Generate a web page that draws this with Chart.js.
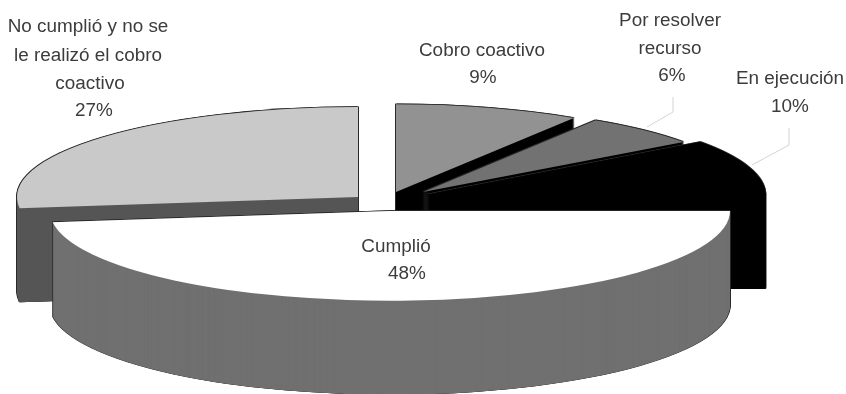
<!DOCTYPE html>
<html lang="es">
<head>
    <meta charset="UTF-8">
    <title>Estado de las sanciones</title>
    <script src="https://cdn.jsdelivr.net/npm/chart.js"></script>
    <style>
        body {
            margin: 0;
            padding: 0;
            background: #fff;
        }
        canvas {
            display: block;
        }
    </style>
</head>
<body>
<canvas id="pie" width="846" height="394"></canvas>
<script>
    // slices, clockwise, starting from the one that is drawn furthest back
    const categories = ['No cumplió y no se le realizó el cobro coactivo', 'Cobro coactivo', 'Por resolver recurso', 'En ejecución', 'Cumplió'];
    const percentages = [27, 9, 6, 10, 48];

    const topColors = ['#c9c9c9', '#929292', '#727272', '#000000', '#ffffff'];
    const sideColors = ['#555555', '#000000', '#000000', '#000000', '#707070'];

    const squash = 0.264;   // vertical flattening of the disc
    const depth = 94;       // height of the disc on screen, px

    // how far each slice is pulled out of the disc (screen px) and its radius
    const pullOut = [[-29.5, -5], [8.5, -10], [35.5, -10], [37, -7], [2.5, 9]];
    const sliceRadius = [341, 332, 322, 341, 340];

    const labelLines = [
        ['No cumplió y no se', 88, 27], ['le realizó el cobro', 88, 56], ['coactivo', 90, 84], ['27%', 94, 111],
        ['Cobro coactivo', 482, 51], ['9%', 483, 78],
        ['Por resolver', 670, 21], ['recurso', 670, 49], ['6%', 672, 76],
        ['En ejecución', 790, 79], ['10%', 790, 107],
        ['Cumplió', 396, 247], ['48%', 407, 274]
    ];
    const leaders = [
        [[673, 97], [673, 112], [647, 127]],
        [[789, 128], [789, 145], [752, 165]]
    ];

    // draws one arc with another fill, shifted by screen pixels
    function paintArc(ctx, arc, i, color, dx, dy) {
        const copy = Object.create(arc);
        copy.options = Object.assign({}, arc.options, { backgroundColor: color, borderWidth: 0 });
        copy.outerRadius = sliceRadius[i];
        ctx.save();
        ctx.translate(pullOut[i][0] + dx, (pullOut[i][1] + dy) / squash);
        copy.draw(ctx);
        ctx.restore();
    }

    const solidPie = {
        id: 'solidPie',
        beforeDatasetDraw(chart) {
            const ctx = chart.ctx;
            const arcs = chart.getDatasetMeta(0).data;
            const line = '#2a2a2a';
            const t = 0.8;

            ctx.save();
            ctx.translate(arcs[0].x, arcs[0].y);
            ctx.scale(1, squash);
            ctx.translate(-arcs[0].x, -arcs[0].y);

            arcs.forEach((arc, i) => {
                // outline of the whole solid
                [-t, t].forEach(dx => {
                    paintArc(ctx, arc, i, line, dx, -t);
                    for (let y = 0; y <= depth + t; y += 1) {
                        paintArc(ctx, arc, i, line, dx, y);
                    }
                });
                // walls
                let side = sideColors[i];
                if (i === 0) {
                    // the rounded wall on the far left turns dark
                    const g = ctx.createLinearGradient(16, 0, 23, 0);
                    g.addColorStop(0, '#111111');
                    g.addColorStop(1, sideColors[0]);
                    side = g;
                }
                for (let y = depth; y >= 0; y -= 1) {
                    paintArc(ctx, arc, i, side, 0, y);
                }
                // top face
                paintArc(ctx, arc, i, topColors[i], 0, 0);
            });

            ctx.restore();
            return false;
        },
        afterDraw(chart) {
            const ctx = chart.ctx;
            ctx.save();
            ctx.strokeStyle = '#d4d4d4';
            ctx.lineWidth = 1;
            leaders.forEach(pts => {
                ctx.beginPath();
                pts.forEach((p, i) => i ? ctx.lineTo(p[0], p[1]) : ctx.moveTo(p[0], p[1]));
                ctx.stroke();
            });
            ctx.fillStyle = '#3c3c3c';
            ctx.font = '18px "Liberation Sans", Arial, sans-serif';
            ctx.textAlign = 'center';
            ctx.textBaseline = 'middle';
            labelLines.forEach(l => {
                ctx.save();
                ctx.translate(l[1], l[2]);
                ctx.scale(1.05, 1);     // the lettering runs a bit wide
                ctx.fillText(l[0], 0, 0);
                ctx.restore();
            });
            ctx.restore();
        }
    };

    new Chart(document.getElementById('pie'), {
        type: 'pie',
        data: {
            labels: categories,
            datasets: [{
                data: percentages,
                backgroundColor: topColors,
                borderWidth: 0,
                clip: false
            }]
        },
        options: {
            responsive: false,
            animation: false,
            radius: 341,
            rotation: -percentages[0] / 100 * 360,
            layout: { padding: { right: 71, top: 10 } },
            plugins: {
                legend: { display: false },
                tooltip: { enabled: false }
            }
        },
        plugins: [solidPie]
    });
</script>
</body>
</html>
